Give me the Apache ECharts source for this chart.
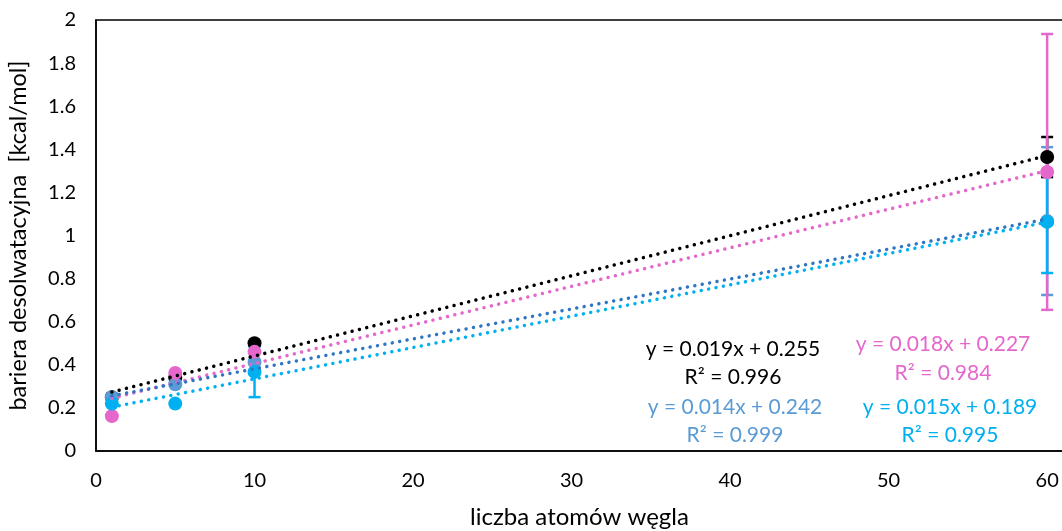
<!DOCTYPE html>
<html><head><meta charset="utf-8">
<script src="https://cdn.jsdelivr.net/npm/echarts@6/dist/echarts.min.js"></script>
<style>html,body{margin:0;padding:0;background:#fff}#c{width:1062px;height:531px}</style>
</head><body><div id="c"></div>
<script>
const xs = [1, 5, 10, 60];
const blackY = [0.25, 0.34, 0.50, 1.364];
const blackErr = [0, 0, 0, 0.093];
const steelY = [0.25, 0.31, 0.413, 1.067];
const steelErr = [0, 0, 0, 0.343];
const pinkY = [0.162, 0.362, 0.46, 1.295];
const pinkErr = [0, 0, 0, 0.64];
const cyanY = [0.22, 0.22, 0.367, 1.063];
const cyanErr = [0, 0, 0.117, 0.237];
// trendline coefficients [slope, intercept] (unrounded estimates of the fits)
const blackFit = [0.0186, 0.255];
const steelFit = [0.0139, 0.242];
const pinkFit = [0.0179, 0.227];
const cyanFit = [0.01455, 0.189];
const fitRange = [1, 60];
const xLabels = [0, 10, 20, 30, 40, 50, 60];

const COL = {black: '#000000', steel: '#5B9BD5', steelLine: '#2E75C4', pink: '#E567CC', cyan: '#00B0F0'};
const FONT = 'Lato';

function pts(y) { return xs.map((x, i) => [x, y[i]]); }
function errData(y, e) { return xs.map((x, i) => [x, y[i], e[i]]).filter(d => d[2] > 0); }
function fitData(f) { return fitRange.map(x => [x, f[0] * x + f[1]]); }

function errSeries(y, e, color, z) {
  return {
    type: 'custom', z: z, silent: true,
    data: errData(y, e),
    renderItem: function (params, api) {
      const x = api.value(0), v = api.value(1), er = api.value(2);
      const top = api.coord([x, v + er]);
      const bot = api.coord([x, v - er]);
      const hw = 6;
      const st = {stroke: color, lineWidth: 2.5};
      return {type: 'group', children: [
        {type: 'line', shape: {x1: top[0], y1: top[1], x2: bot[0], y2: bot[1]}, style: st},
        {type: 'line', shape: {x1: top[0] - hw, y1: top[1], x2: top[0] + hw, y2: top[1]}, style: st},
        {type: 'line', shape: {x1: bot[0] - hw, y1: bot[1], x2: bot[0] + hw, y2: bot[1]}, style: st}
      ]};
    }
  };
}
function scat(y, color, z) {
  return {type: 'scatter', data: pts(y), symbol: 'circle', symbolSize: 14, z: z,
    itemStyle: {color: color, opacity: 1}};
}
function trend(f, color, z) {
  return {type: 'line', data: fitData(f), symbol: 'none', z: z, silent: true,
    lineStyle: {color: color, width: 3.5, type: [0.01, 7.5], cap: 'round'}};
}

const chart = echarts.init(document.getElementById('c'), null, {renderer: 'canvas'});
const txt = (x, y, s, c) => ({type: 'text', x: x, y: y,
  style: {text: s, fill: c, font: '21px ' + FONT, textAlign: 'center', textVerticalAlign: 'middle'}});

chart.setOption({
  animation: false,
  grid: {left: 96, right: -1, top: 20, bottom: 80, show: true, borderColor: '#000', borderWidth: 1.5,
    backgroundColor: 'transparent', containLabel: false, outerBoundsMode: 'none'},
  xAxis: {
    type: 'value', min: 0, max: 61, interval: 10,
    name: 'liczba atomów węgla', nameLocation: 'middle', nameGap: 54,
    nameTextStyle: {fontFamily: FONT, fontSize: 24, color: '#000'},
    axisLine: {show: true, lineStyle: {color: '#000', width: 1.5}},
    axisTick: {show: false}, splitLine: {show: false},
    axisLabel: {fontFamily: FONT, fontSize: 20, color: '#000', margin: 20, showMaxLabel: false,
      formatter: v => (xLabels.indexOf(v) >= 0 ? String(v) : '')}
  },
  yAxis: {
    type: 'value', min: 0, max: 2, interval: 0.2,
    name: 'bariera desolwatacyjna  [kcal/mol]', nameLocation: 'middle', nameGap: 66,
    nameTextStyle: {fontFamily: FONT, fontSize: 23.5, color: '#000'},
    axisLine: {show: true, lineStyle: {color: '#000', width: 1.5}},
    axisTick: {show: false}, splitLine: {show: false},
    axisLabel: {fontFamily: FONT, fontSize: 20, color: '#000', margin: 20,
      formatter: v => String(Math.round(v * 10) / 10)}
  },
  series: [
    errSeries(blackY, blackErr, COL.black, 2),
    errSeries(steelY, steelErr, COL.steel, 2),
    errSeries(pinkY, pinkErr, COL.pink, 3),
    errSeries(cyanY, cyanErr, COL.cyan, 4),
    scat(blackY, COL.black, 5),
    scat(steelY, COL.steel, 5),
    scat(pinkY, COL.pink, 5),
    scat(cyanY, COL.cyan, 5),
    trend(blackFit, COL.black, 6),
    trend(pinkFit, COL.pink, 6),
    trend(steelFit, COL.steelLine, 6),
    trend(cyanFit, COL.cyan, 6)
  ],
  graphic: [
    txt(733, 349, 'y = 0.019x + 0.255', COL.black),
    txt(733, 377, 'R² = 0.996', COL.black),
    txt(735, 407, 'y = 0.014x + 0.242', COL.steel),
    txt(735, 435, 'R² = 0.999', COL.steel),
    txt(943, 344, 'y = 0.018x + 0.227', COL.pink),
    txt(943, 373, 'R² = 0.984', COL.pink),
    txt(950, 407, 'y = 0.015x + 0.189', COL.cyan),
    txt(950, 435, 'R² = 0.995', COL.cyan)
  ]
});
</script></body></html>
